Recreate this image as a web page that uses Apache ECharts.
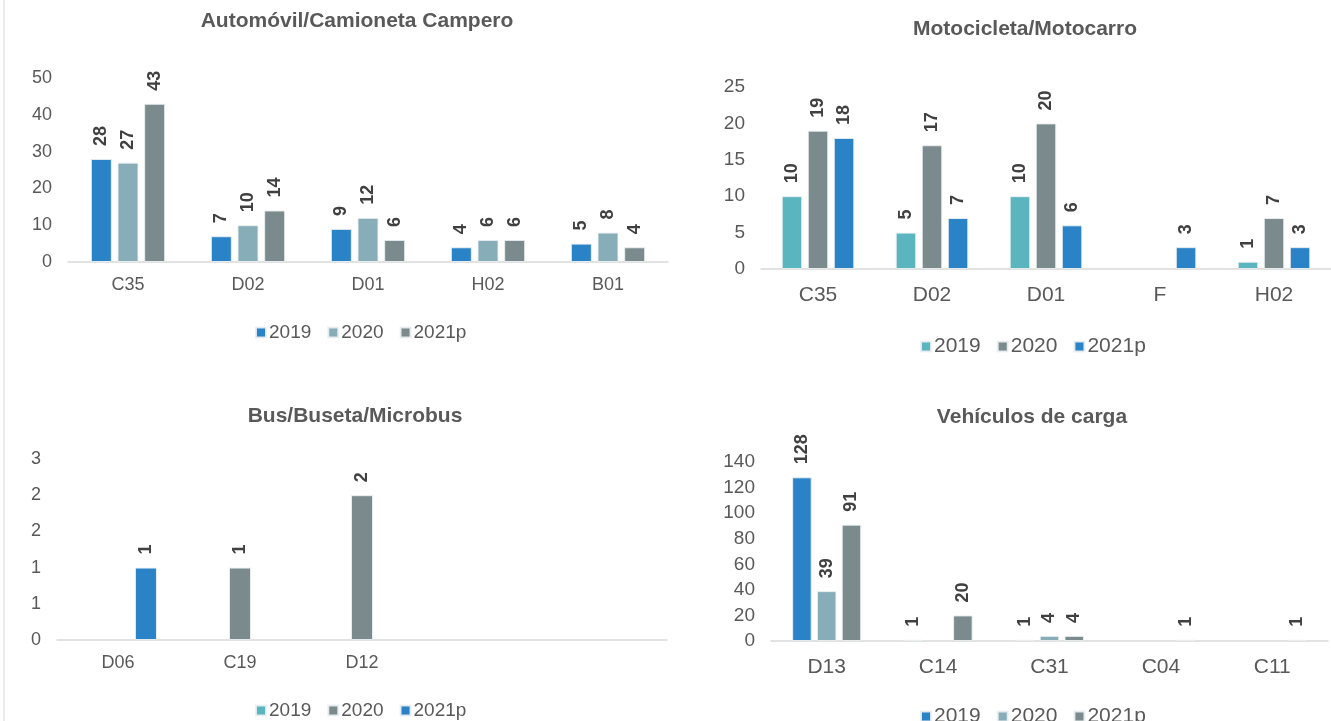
<!DOCTYPE html>
<html>
<head>
<meta charset="utf-8">
<script src="https://cdn.jsdelivr.net/npm/echarts@6/dist/echarts.min.js"></script>
<style>
html,body{margin:0;padding:0;background:#fff;}
#c{width:1331px;height:721px;}
</style>
</head>
<body>
<div id="c"></div>
<script>
// ---- data ----
const seriesNames = ['2019', '2020', '2021p'];

const autoCats = ['C35', 'D02', 'D01', 'H02', 'B01'];
const auto2019 = [28, 7, 9, 4, 5];
const auto2020 = [27, 10, 12, 6, 8];
const auto2021 = [43, 14, 6, 6, 4];

const motoCats = ['C35', 'D02', 'D01', 'F', 'H02'];
const moto2019 = [10, 5, 10, null, 1];
const moto2020 = [19, 17, 20, null, 7];
const moto2021 = [18, 7, 6, 3, 3];

const busCats = ['D06', 'C19', 'D12', '', ''];
const bus2019 = [null, null, null, null, null];
const bus2020 = [null, 1, 2, null, null];
const bus2021 = [1, null, null, null, null];

const cargaCats = ['D13', 'C14', 'C31', 'C04', 'C11'];
const carga2019 = [128, 1, 1, null, null];
const carga2020 = [39, null, 4, null, null];
const carga2021 = [91, 20, 4, 1, 1];

const autoTicks = {min: 0, max: 50, interval: 10};
const motoTicks = {min: 0, max: 25, interval: 5};
const busTicks = {min: 0, max: 2.5, interval: 0.5};
const cargaTicks = {min: 0, max: 140, interval: 20};

// ---- styles ----
const BLUE = '#2a82c7', LBLUE = '#87adb8', GRAY = '#7b8b8d', TEAL = '#5bb5be';
const FONT = 'Liberation Sans, Arial, sans-serif';
const TXT = '#595959';

const panels = [
  {title: 'Automóvil/Camioneta Campero', tx: 357, ty: 11, cats: autoCats, data: [auto2019, auto2020, auto2021],
   colors: [BLUE, LBLUE, GRAY], grid: {left: 68, top: 78, width: 600, height: 184}, ticks: autoTicks,
   legend: {left: 250, top: 318, fs: 19}, bw: 21, xfs: 18, xm: 14, yfs: 18},
  {title: 'Motocicleta/Motocarro', tx: 1025, ty: 19, cats: motoCats, data: [moto2019, moto2020, moto2021],
   colors: [TEAL, GRAY, BLUE], grid: {left: 761, top: 87, width: 570, height: 182}, ticks: motoTicks,
   legend: {left: 915, top: 331, fs: 21}, bw: 20.5, xfs: 21, xm: 16, yfs: 19},
  {title: 'Bus/Buseta/Microbus', tx: 355, ty: 406, cats: busCats, data: [bus2019, bus2020, bus2021],
   colors: [TEAL, GRAY, BLUE], grid: {left: 57, top: 459, width: 610, height: 181}, ticks: busTicks,
   legend: {left: 250, top: 696, fs: 19}, bw: 22, xfs: 18, xm: 14, yfs: 18, round: true},
  {title: 'Vehículos de carga', tx: 1032, ty: 407, cats: cargaCats, data: [carga2019, carga2020, carga2021],
   colors: [BLUE, LBLUE, GRAY], grid: {left: 771, top: 462, width: 557, height: 179}, ticks: cargaTicks,
   legend: {left: 915, top: 701, fs: 21}, bw: 19.5, xfs: 21, xm: 16, yfs: 19}
];

const option = {
  animation: false,
  backgroundColor: '#fff',
  textStyle: {fontFamily: FONT},
  title: [], grid: [], xAxis: [], yAxis: [], legend: [], series: [],
  graphic: [{type: 'line', shape: {x1: 4, y1: 0, x2: 4, y2: 721}, style: {stroke: '#ebebeb', lineWidth: 2}, silent: true}]
};

panels.forEach((p, i) => {
  option.title.push({
    text: p.title, left: p.tx, top: p.ty, textAlign: 'center', padding: 0,
    textStyle: {fontFamily: FONT, fontSize: 21, fontWeight: 'bold', color: TXT}
  });
  option.grid.push(Object.assign({containLabel: false}, p.grid));
  option.xAxis.push({
    type: 'category', gridIndex: i, data: p.cats,
    axisLine: {lineStyle: {color: '#d9d9d9', width: 1.5}},
    axisTick: {show: false},
    axisLabel: {color: TXT, fontSize: p.xfs, fontFamily: FONT, margin: p.xm, interval: 0}
  });
  option.yAxis.push({
    type: 'value', gridIndex: i, min: p.ticks.min, max: p.ticks.max, interval: p.ticks.interval,
    axisLine: {show: false}, axisTick: {show: false}, splitLine: {show: false},
    axisLabel: {color: TXT, fontSize: p.yfs, fontFamily: FONT, margin: 16,
      formatter: p.round ? (v => String(Math.round(v))) : (v => String(v))}
  });
  option.legend.push({
    left: p.legend.left, top: p.legend.top, itemWidth: 10, itemHeight: 10, itemGap: 16,
    icon: 'rect', selectedMode: false,
    textStyle: {color: TXT, fontSize: p.legend.fs, fontFamily: FONT, padding: [0, 0, 0, -2]},
    data: seriesNames.map((n, k) => ({name: n, itemStyle: {color: p.colors[k]}}))
  });
  seriesNames.forEach((n, k) => {
    option.series.push({
      type: 'bar', name: n, xAxisIndex: i, yAxisIndex: i,
      data: p.data[k], barWidth: p.bw, barGap: '27%',
      itemStyle: {color: p.colors[k], borderColor: 'rgba(235,240,242,0.9)', borderWidth: 1},
      label: {
        show: true, position: 'top', rotate: 90, align: 'left', verticalAlign: 'middle', distance: 13,
        fontSize: 18, fontWeight: 'bold', color: '#404040', fontFamily: FONT,
        formatter: d => (d.value == null ? '' : String(d.value))
      }
    });
  });
});

const chart = echarts.init(document.getElementById('c'), null, {renderer: 'canvas'});
chart.setOption(option);
</script>
</body>
</html>
